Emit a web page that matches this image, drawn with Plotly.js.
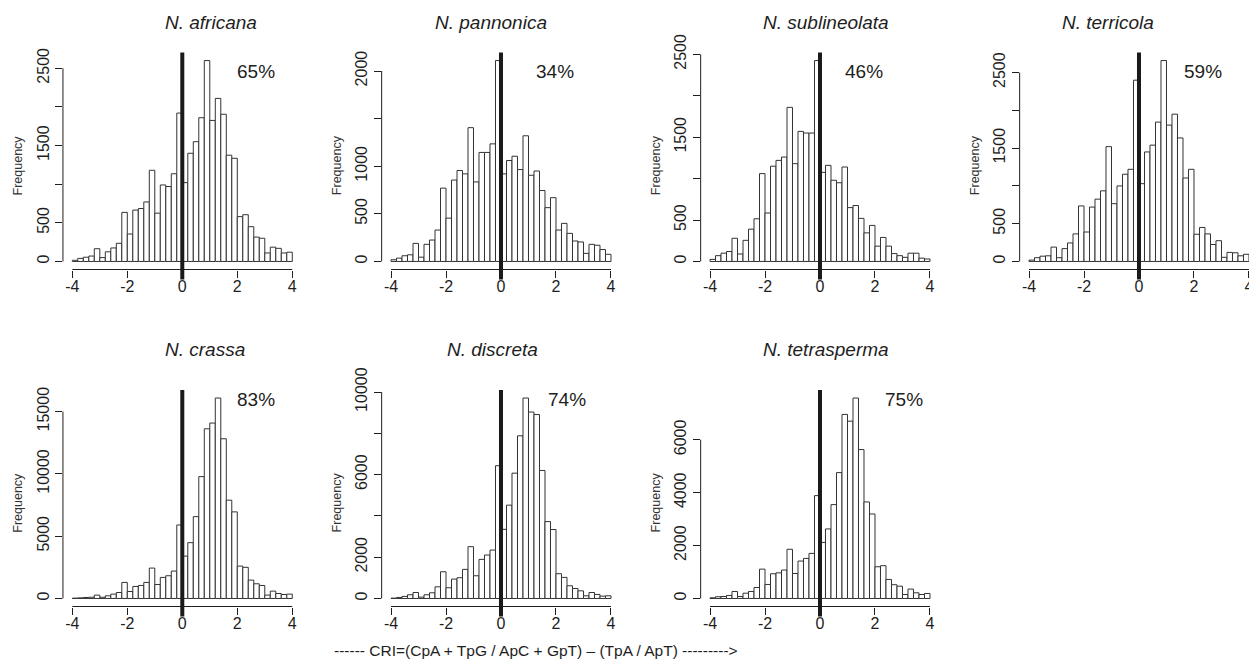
<!DOCTYPE html>
<html>
<head>
<meta charset="utf-8">
<script src="https://cdn.plot.ly/plotly-3.0.1.min.js"></script>
<style>html,body{margin:0;padding:0;background:#fff;}#chart{width:1249px;height:662px;}</style>
</head>
<body>
<div id="chart"></div>
<script>
// ---------------- DATA ----------------
const binStart = -4;
const binWidth = 0.2;
const species = ['N. africana','N. pannonica','N. sublineolata','N. terricola','N. crassa','N. discreta','N. tetrasperma'];
const percents = ['65%','34%','46%','59%','83%','74%','75%'];

const africana = [15,40,55,70,165,50,125,175,235,635, 355,665,685,770,1180,625,990,970,1135,1920, 1020,1400,1550,1860,2600,1825,2110,1905,1375,1335, 580,605,450,315,300,110,185,170,110,120];
const pannonica = [18,35,60,70,190,45,180,225,330,770, 455,855,955,920,1405,835,1145,1145,1235,2110, 920,1060,1105,965,1320,905,950,745,565,670, 330,400,295,215,205,85,180,170,125,75];
const sublineolata = [25,70,100,120,280,90,255,390,515,1060, 585,1150,1220,1260,1860,1180,1570,1550,1550,2425, 1075,1160,980,950,1140,650,675,520,345,435, 185,290,185,95,70,50,100,100,40,30];
const terricola = [18,50,70,75,190,50,170,245,365,735, 390,720,825,935,1520,765,1000,1155,1220,2400, 1030,1450,1540,1845,2660,1805,1950,1635,1105,1220, 360,450,365,225,275,55,120,115,75,95];
const crassa = [25,50,80,100,270,100,215,350,480,1290, 560,965,1045,1290,2440,1125,1690,1825,2200,5900, 3400,4480,6570,9780,13620,14080,16090,12820,7890,6950, 2600,2500,1475,1180,1045,270,590,400,320,350];
const discreta = [15,50,100,180,290,65,180,275,565,1295, 520,940,1005,1410,2510,1100,1895,2105,2345,6430, 3350,4520,6070,7880,9710,9030,8910,6200,3725,3340, 1200,1020,615,485,370,130,290,195,115,130];
const tetrasperma = [25,65,75,115,265,75,200,265,415,1110, 530,935,970,1075,1860,945,1415,1515,1705,3890, 2120,2630,3550,4760,6960,6705,7580,5630,3650,3195, 1200,1240,720,520,465,150,355,215,150,190];

const xTickVals = [-4,-2,0,2,4];
const xTickText = ['-4','-2','0','2','4'];
const yTickVals = [
  [0,500,1000,1500,2000,2500],
  [0,500,1000,1500,2000],
  [0,500,1000,1500,2000,2500],
  [0,500,1000,1500,2000,2500],
  [0,5000,10000,15000],
  [0,2000,4000,6000,8000,10000],
  [0,2000,4000,6000]
];
const yTickText = [
  ['0','500','','1500','','2500'],
  ['0','500','1000','','2000'],
  ['0','500','','1500','','2500'],
  ['0','500','','1500','','2500'],
  ['0','5000','10000','15000'],
  ['0','2000','','6000','','10000'],
  ['0','2000','4000','6000']
];
const refLine = 0;
const yTitle = 'Frequency';
const xLabel = '------ CRI=(CpA + TpG / ApC + GpT) \u2013 (TpA / ApT) --------->';

const seriesList = [africana, pannonica, sublineolata, terricola, crassa, discreta, tetrasperma];

// ---------------- LAYOUT (pixel geometry) ----------------
const W = 1249, H = 662;
const fx = p => p / W;
const fy = p => 1 - p / H;
const colX4 = [72.3, 391, 710, 1029];   // pixel position of x=-4 per column
const PXU = 27.5;                        // pixels per x unit
const EXT = 0.34;
const rowBox = [[52.5, 269.5], [390, 606.5]];
const cells = [[0,0],[0,1],[0,2],[0,3],[1,0],[1,1],[1,2]];
const titleLeft = [163, 432.7, 761, 1060, 163, 445, 761];
const titleY = [22.2, 349.7];
const pctLeft = [235, 534, 843.3, 1181.7, 235.3, 546, 883.3];
const pctY = [72, 399.3];

const FONT = 'Liberation Sans, Arial, Helvetica, sans-serif';
const INK = '#1e1e1e';
const TICKSIZE = 16;

const traces = [];
const layout = {
  width: W, height: H,
  margin: {l:0, r:0, t:0, b:0},
  paper_bgcolor: '#fff', plot_bgcolor: 'rgba(0,0,0,0)',
  showlegend: false,
  bargap: 0,
  font: {family: FONT, color: INK},
  shapes: [], annotations: []
};

seriesList.forEach((counts, i) => {
  const [r, c] = cells[i];
  const n = i + 1;
  const xa = 'xaxis' + (n === 1 ? '' : n), ya = 'yaxis' + (n === 1 ? '' : n);
  const xr = 'x' + (n === 1 ? '' : n), yr = 'y' + (n === 1 ? '' : n);
  const left = colX4[c] - EXT * PXU;
  const right = Math.min(W, colX4[c] + (8 + EXT) * PXU);
  const xmaxR = -4 + (right - colX4[c]) / PXU;
  const [top, bottom] = rowBox[r];
  const ymax = Math.max(...counts);

  const centers = counts.map((_, k) => binStart + binWidth * (k + 0.5));
  traces.push({
    type: 'bar', x: centers, y: counts, width: binWidth,
    xaxis: xr, yaxis: yr,
    marker: {color: '#ffffff', line: {color: '#333333', width: 1}},
    hoverinfo: 'x+y'
  });

  layout[xa] = {
    domain: [fx(left), fx(right)], anchor: yr,
    range: [-4 - EXT, xmaxR + 0.0005],
    showgrid: false, zeroline: false, showline: false,
    tickmode: 'array', tickvals: xTickVals, ticktext: xTickText,
    ticks: 'outside', ticklen: 7, tickwidth: 1, tickcolor: INK,
    ticklabelstandoff: -5, ticklabeloverflow: 'allow',
    tickfont: {family: FONT, size: TICKSIZE, color: INK}
  };
  layout[ya] = {
    domain: [fy(bottom), fy(top)], anchor: xr,
    range: [-0.04 * ymax, 1.04 * ymax],
    showgrid: false, zeroline: false, showline: false,
    tickmode: 'array', tickvals: yTickVals[i], ticktext: yTickText[i],
    ticks: 'outside', ticklen: 7, tickwidth: 1, tickcolor: INK,
    tickangle: -90, ticklabeloverflow: 'allow',
    tickfont: {family: FONT, size: TICKSIZE, color: INK}
  };

  // R-style axis lines spanning first to last tick
  layout.shapes.push({type:'line', xref: xr, yref: yr + ' domain',
    x0: xTickVals[0], x1: xTickVals[xTickVals.length-1], y0: 0, y1: 0,
    line: {color: INK, width: 1}});
  const yt = yTickVals[i];
  layout.shapes.push({type:'line', xref: xr + ' domain', yref: yr,
    x0: 0, x1: 0, y0: yt[0], y1: yt[yt.length-1],
    line: {color: INK, width: 1}});
  // thick reference line at 0
  layout.shapes.push({type:'line', xref: xr, yref: 'paper',
    x0: refLine, x1: refLine, y0: fy(bottom + 10), y1: fy(top),
    line: {color: '#1a1a1a', width: 4}});

  layout.annotations.push({
    text: species[i], xref: 'paper', yref: 'paper',
    x: fx(titleLeft[i]), y: fy(titleY[r]), xanchor: 'left', yanchor: 'middle',
    showarrow: false, font: {family: FONT, size: 19, color: INK, style: 'italic'}
  });
  layout.annotations.push({
    text: percents[i], xref: 'paper', yref: 'paper',
    x: fx(pctLeft[i]), y: fy(pctY[r]), xanchor: 'left', yanchor: 'middle',
    showarrow: false, font: {family: FONT, size: 19, color: INK}
  });
  layout.annotations.push({
    text: yTitle, xref: 'paper', yref: 'paper', textangle: -90,
    x: fx(left - 44.5), y: fy((top + bottom) / 2 + 4), xanchor: 'center', yanchor: 'middle',
    showarrow: false, font: {family: FONT, size: 12.5, color: '#333'}
  });
});

layout.annotations.push({
  text: xLabel, xref: 'paper', yref: 'paper',
  x: fx(536), y: fy(650.7), xanchor: 'center', yanchor: 'middle',
  showarrow: false, font: {family: FONT, size: 15.5, color: INK}
});

Plotly.newPlot('chart', traces, layout, {displayModeBar: false, staticPlot: true});
</script>
</body>
</html>
